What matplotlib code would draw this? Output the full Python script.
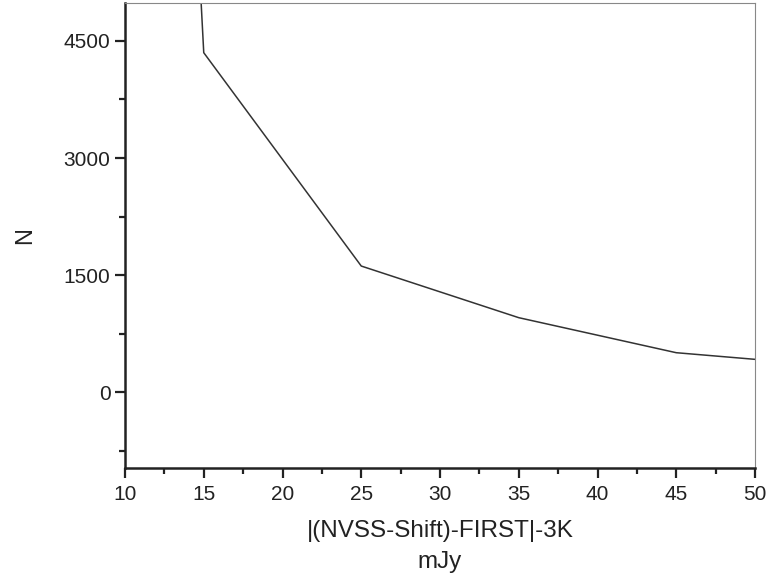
import matplotlib
matplotlib.use("Agg")
import matplotlib.pyplot as plt
from matplotlib.ticker import MultipleLocator

plt.rcParams['font.family'] = ['Liberation Sans', 'DejaVu Sans']

# data
shift_mjy = [10, 15, 25, 35, 45, 50]
counts = [23600, 4350, 1615, 953, 504, 419]

fig = plt.figure(figsize=(7.68, 5.78), dpi=100)
ax = fig.add_axes([125 / 768, 1 - 468 / 578, 630 / 768, 465 / 578])

ax.plot(shift_mjy, counts, color="#333333", lw=1.1)

ax.set_xlim(10, 50)
ax.set_ylim(-974, 4987)
ax.xaxis.set_major_locator(MultipleLocator(5))
ax.xaxis.set_minor_locator(MultipleLocator(2.5))
ax.yaxis.set_major_locator(MultipleLocator(1500))
ax.yaxis.set_minor_locator(MultipleLocator(750))

ax.tick_params(which="both", direction="out", labelsize=15, width=1.6, color="#222222",
               labelcolor="#222222")
ax.tick_params(which="major", length=7)
ax.tick_params(which="minor", length=4)
ax.tick_params(axis="x", pad=5)

for side in ["left", "bottom"]:
    ax.spines[side].set_linewidth(1.8)
    ax.spines[side].set_color("#222222")
for side in ["top", "right"]:
    ax.spines[side].set_linewidth(0.8)
    ax.spines[side].set_color("#888888")

ax.set_xlabel("|(NVSS-Shift)-FIRST|-3K\nmJy", fontsize=17.5, labelpad=12, linespacing=1.5,
              color="#222222")
ax.set_ylabel("N", fontsize=17, labelpad=20, color="#222222")

fig.savefig("out.png", dpi=100)
plt.close(fig)
